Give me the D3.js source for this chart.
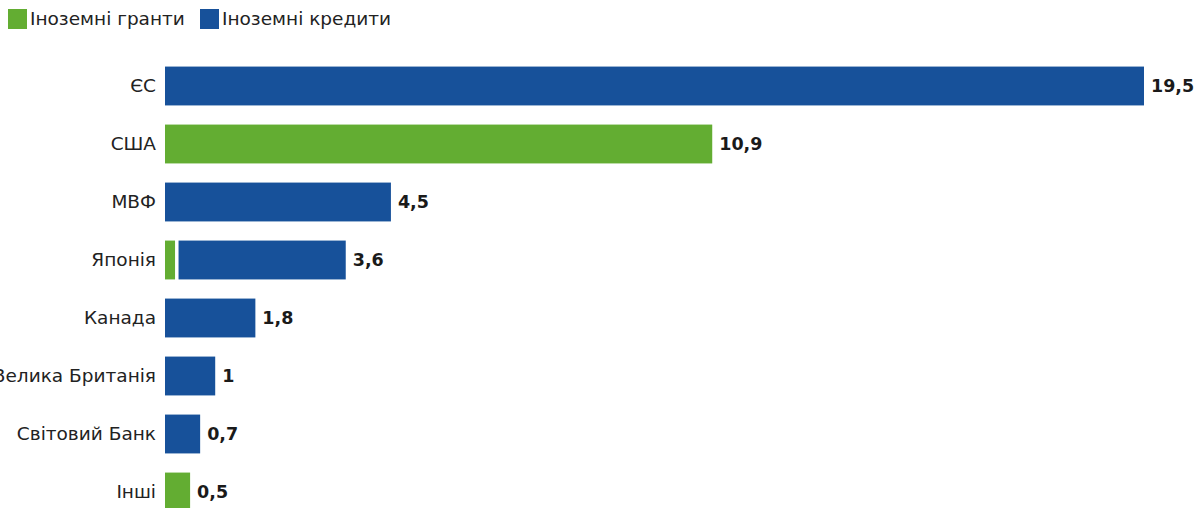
<!DOCTYPE html>
<html><head><meta charset="utf-8">
<script src="https://cdn.jsdelivr.net/npm/d3@7"></script>
<style>body{margin:0;background:#fff;overflow:hidden}svg{display:block}text{font-family:"DejaVu Sans",sans-serif}</style>
</head><body>
<svg id="c" width="1195" height="508"></svg>
<script>
const categories = ["ЄС","США","МВФ","Японія","Канада","Велика Британія","Світовий Банк","Інші"];
const grants = [0, 10.9, 0, 0.2, 0, 0, 0, 0.5];
const credits = [19.5, 0, 4.5, 3.4, 1.8, 1, 0.7, 0];
const totals = ["19,5","10,9","4,5","3,6","1,8","1","0,7","0,5"];
const seriesNames = ["Іноземні гранти","Іноземні кредити"];
const colors = ["#63ad32","#17519a"];

const svg = d3.select("#c");
const x = d3.scaleLinear().domain([0, 19.5]).range([165, 1144]);
const y = d3.scaleBand().domain(categories).range([57, 521]).paddingInner(0.33).paddingOuter(0.165);

const data = categories.map((c,i)=>({cat:c, g:grants[i], k:credits[i], t:totals[i]}));
const stack = d3.stack().keys(["g","k"])(data);

stack.forEach((layer, li) => {
  svg.append("g").selectAll("rect").data(layer.filter(d => d[1] - d[0] > 0)).join("rect")
    .attr("x", d => x(d[0]) + (d[0] > 0 ? 3.5 : 0))
    .attr("y", d => y(d.data.cat))
    .attr("width", d => x(d[1]) - x(d[0]) - (d[0] > 0 ? 3.5 : 0))
    .attr("height", y.bandwidth())
    .attr("fill", colors[li]);
});

svg.append("g").selectAll("text").data(data).join("text")
  .attr("x", 156).attr("y", d => y(d.cat) + y.bandwidth()/2)
  .attr("dy", "0.35em").attr("text-anchor", "end")
  .attr("font-size", 18.5).attr("fill", "#222").text(d => d.cat);

svg.append("g").selectAll("text").data(data).join("text")
  .attr("x", d => x(d.g + d.k) + 7).attr("y", d => y(d.cat) + y.bandwidth()/2)
  .attr("dy", "0.35em").attr("font-size", 17.5).attr("font-weight", "bold")
  .attr("fill", "#1a1a1a").text(d => d.t);

const leg = svg.append("g");
const lx = [8, 200];
seriesNames.forEach((n,i) => {
  leg.append("rect").attr("x", lx[i]).attr("y", 9).attr("width", 19).attr("height", 20).attr("fill", colors[i]);
  leg.append("text").attr("x", lx[i] + 22).attr("y", 19).attr("dy","0.35em")
    .attr("font-size", 18.5).attr("fill", "#222").text(n);
});
</script>
</body></html>
